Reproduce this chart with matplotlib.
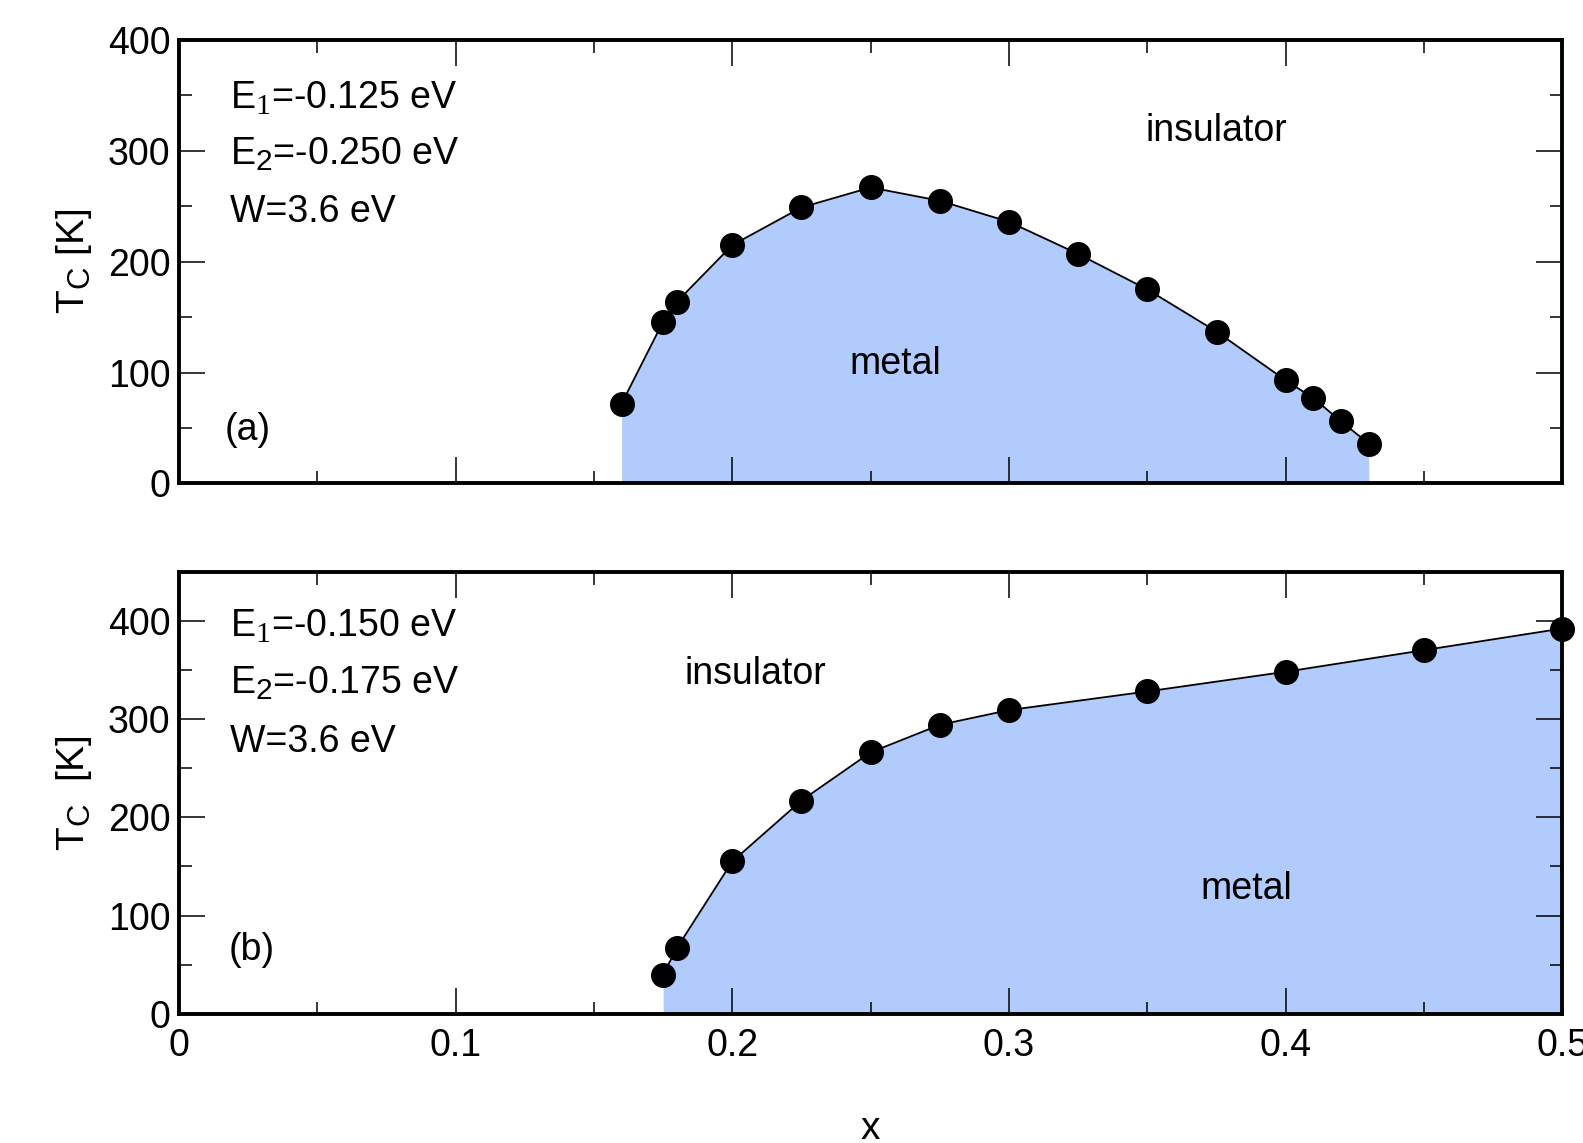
import matplotlib
matplotlib.use('Agg')
import matplotlib.pyplot as plt
from matplotlib.ticker import MultipleLocator
import matplotlib._mathtext as mt

# bigger, lower subscripts, like the original
mt.SHRINK_FACTOR = 0.8
mt.FontConstantsBase.sub1 = 0.35
mt.FontConstantsBase.sub2 = 0.4

plt.rcParams['font.family'] = ['Liberation Sans', 'DejaVu Sans']
plt.rcParams['mathtext.fontset'] = 'custom'
plt.rcParams['mathtext.rm'] = 'Liberation Serif'
plt.rcParams['mathtext.it'] = 'Liberation Serif:italic'

# panel (a)
xa = [0.16, 0.175, 0.18, 0.2, 0.225, 0.25, 0.275, 0.3, 0.325, 0.35, 0.375, 0.4, 0.41, 0.42, 0.43]
ta = [72, 146, 164, 215, 249, 267, 255, 236, 207, 175, 137, 93, 77, 56, 36]
# panel (b)
xb = [0.175, 0.18, 0.2, 0.225, 0.25, 0.275, 0.3, 0.35, 0.4, 0.45, 0.5]
tb = [40, 67, 155, 217, 266, 294, 309, 328, 348, 370, 392]

labels_a = [r'E$_\mathrm{1}$=-0.125 eV', r'E$_\mathregular{2}$=-0.250 eV', 'W=3.6 eV']
labels_b = [r'E$_\mathrm{1}$=-0.150 eV', r'E$_\mathregular{2}$=-0.175 eV', 'W=3.6 eV']

fill_col = '#b1cbfd'
fs = 27

fig = plt.figure(figsize=(15.83, 11.43), dpi=100)
ax1 = fig.add_axes([0.113, 0.577, 0.874, 0.388])
ax2 = fig.add_axes([0.113, 0.113, 0.874, 0.387])

def style(ax, ymax):
    ax.set_xlim(0, 0.5)
    ax.set_ylim(0, ymax)
    ax.xaxis.set_major_locator(MultipleLocator(0.1))
    ax.xaxis.set_minor_locator(MultipleLocator(0.05))
    ax.yaxis.set_major_locator(MultipleLocator(100))
    ax.yaxis.set_minor_locator(MultipleLocator(50))
    ax.tick_params(which='both', direction='in', top=True, right=True, labelsize=fs, width=1.1)
    ax.tick_params(which='major', length=19, pad=6)
    ax.tick_params(axis='x', which='major', pad=10)
    ax.tick_params(which='minor', length=9)
    for s in ax.spines.values():
        s.set_linewidth(2.8)

# top panel
ax1.fill_between(xa, ta, 0, color=fill_col, lw=0)
ax1.plot(xa, ta, color='black', lw=1.3, marker='o', ms=17, clip_on=False, zorder=5)
style(ax1, 400)
ax1.set_xticklabels([])
ax1.set_ylabel(r'T$_\mathregular{C}$ [K]', fontsize=28, labelpad=10)
for lab, yy in zip(labels_a, [347, 297, 245]):
    ax1.text(0.0185, yy, lab, fontsize=fs, va='center', ha='left')
ax1.text(0.375, 318, 'insulator', fontsize=fs, ha='center', va='center')
ax1.text(0.259, 108, 'metal', fontsize=fs, ha='center', va='center')
ax1.text(0.0165, 48, '(a)', fontsize=fs, ha='left', va='center')

# bottom panel
ax2.fill_between(xb, tb, 0, color=fill_col, lw=0)
ax2.plot(xb, tb, color='black', lw=1.3, marker='o', ms=17, clip_on=False, zorder=5)
style(ax2, 450)
ax2.set_xticks([0, 0.1, 0.2, 0.3, 0.4, 0.5])
ax2.set_xticklabels(['0', '0.1', '0.2', '0.3', '0.4', '0.5'])
ax2.set_ylabel(r'T$_\mathregular{C}$  [K]', fontsize=28, labelpad=10)
ax2.set_xlabel('x', fontsize=28, labelpad=34)
for lab, yy in zip(labels_b, [394, 336, 277]):
    ax2.text(0.0183, yy, lab, fontsize=fs, va='center', ha='left')
ax2.text(0.2084, 346, 'insulator', fontsize=fs, ha='center', va='center')
ax2.text(0.3858, 127, 'metal', fontsize=fs, ha='center', va='center')
ax2.text(0.018, 65, '(b)', fontsize=fs, ha='left', va='center')

fig.savefig('out.png', dpi=100)
